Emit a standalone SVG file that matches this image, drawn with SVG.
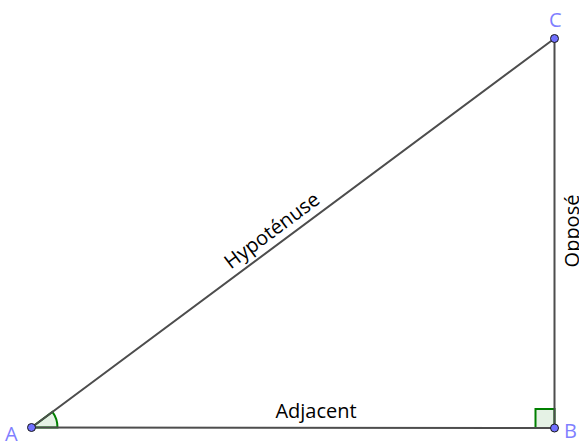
<svg xmlns="http://www.w3.org/2000/svg" width="579" height="442" viewBox="0 0 579 442">
<style>
.seg{stroke:#4d4d4d;stroke-width:2;fill:none;stroke-linecap:round}
.pt{fill:#7070ff;stroke:#1a1a1a;stroke-width:1}
.plab{font-family:"Open Sans","DejaVu Sans",sans-serif;font-size:20px;fill:#7f7fff}
.lab{font-family:"Open Sans","DejaVu Sans",sans-serif;font-size:20px;fill:#000}
.ang{fill:#008000;fill-opacity:0.1;stroke:#008000;stroke-width:2}
</style>
<rect width="579" height="442" fill="#fff"/>
<g id="angles">
<path class="ang" d="M31.5,427.5 L57.5,427.5 A26,26 0 0 0 52.4,411.9 Z"/>
<rect class="ang" x="535.5" y="409" width="19" height="19"/>
</g>
<g id="connectors">
<line class="seg" x1="31.5" y1="427.5" x2="554.5" y2="428"/>
<line class="seg" x1="554.5" y1="428" x2="554.5" y2="38.5"/>
<line class="seg" x1="554.5" y1="38.5" x2="31.5" y2="427.5"/>
</g>
<g id="labels">
<text class="lab" x="316" y="418" text-anchor="middle">Adjacent</text>
<text class="lab" transform="translate(579,231) rotate(-90)" text-anchor="middle">Opposé</text>
<text class="lab" transform="translate(276,236) rotate(-36.67)" text-anchor="middle">Hypoténuse</text>
</g>
<g id="A"><circle class="pt" cx="31.5" cy="427.5" r="4"/><text class="plab" x="5" y="441">A</text></g>
<g id="B"><circle class="pt" cx="554.5" cy="428" r="4"/><text class="plab" x="564" y="438">B</text></g>
<g id="C"><circle class="pt" cx="554.5" cy="38.5" r="4"/><text class="plab" x="549" y="27">C</text></g>
</svg>
